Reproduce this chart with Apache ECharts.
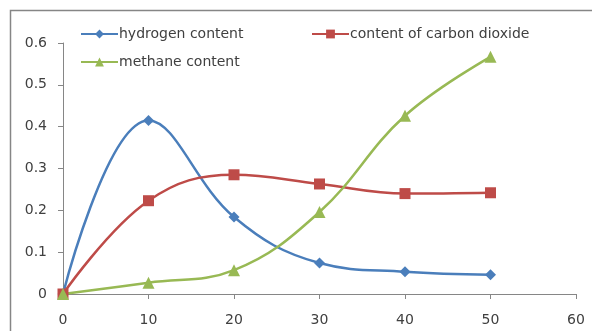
<!DOCTYPE html>
<html>
<head>
<meta charset="utf-8">
<script src="https://cdn.jsdelivr.net/npm/echarts@6/dist/echarts.min.js"></script>
<style>
  html, body { margin: 0; padding: 0; background: #fff; }
  #chart { width: 592px; height: 331px; }
</style>
</head>
<body>
<div id="chart"></div>
<script>
// Sampling points on the x axis
const xValues = [0, 10, 20, 30, 40, 50];

// Gas content at each sampling point
const hydrogen = [0, 0.415, 0.184, 0.074, 0.053, 0.046];
const carbonDioxide = [0, 0.223, 0.285, 0.263, 0.240, 0.242];
const methane = [0, 0.027, 0.057, 0.196, 0.426, 0.567];

const seriesNames = ['hydrogen content', 'content of carbon dioxide', 'methane content'];

const pairs = (ys) => xValues.map((x, i) => [x, ys[i]]);

const chart = echarts.init(document.getElementById('chart'));
const textStyle = { fontFamily: 'DejaVu Sans', fontSize: 13, color: '#404040' };

const legendBase = {
  orient: 'horizontal',
  itemWidth: 37,
  itemHeight: 11,
  itemGap: 2,
  textStyle: Object.assign({}, textStyle, { fontSize: 14, padding: [0, 0, 0, -4] })
};

chart.setOption({
  animation: false,
  textStyle: textStyle,
  graphic: [{
    type: 'rect',
    shape: { x: 10.5, y: 10.5, width: 590, height: 340 },
    style: { fill: 'none', stroke: '#868686', lineWidth: 1.5 },
    silent: true
  }],
  legend: [
    Object.assign({}, legendBase, { left: 75, top: 22, data: [seriesNames[0]] }),
    Object.assign({}, legendBase, { left: 306, top: 22, data: [seriesNames[1]] }),
    Object.assign({}, legendBase, { left: 75, top: 50, data: [seriesNames[2]] })
  ],
  grid: { left: 63, right: 16, top: 43, bottom: 37, containLabel: false },
  xAxis: {
    type: 'value',
    min: 0, max: 60, interval: 10,
    axisLine: { lineStyle: { color: '#868686', width: 1 } },
    axisTick: { show: true, length: 5, lineStyle: { color: '#868686' } },
    axisLabel: { color: '#404040', fontFamily: 'DejaVu Sans', fontSize: 14, margin: 19 },
    splitLine: { show: false }
  },
  yAxis: {
    type: 'value',
    min: 0, max: 0.6, interval: 0.1,
    axisLine: { show: true, lineStyle: { color: '#868686', width: 1 } },
    axisTick: { show: true, length: 5, lineStyle: { color: '#868686' } },
    axisLabel: { color: '#404040', fontFamily: 'DejaVu Sans', fontSize: 14, margin: 16 },
    splitLine: { show: false }
  },
  series: [
    {
      name: seriesNames[0], type: 'line', smooth: 0.4,
      data: pairs(hydrogen),
      symbol: 'diamond', symbolSize: 11,
      itemStyle: { color: '#4a7ebb' },
      lineStyle: { color: '#4a7ebb', width: 2.5 }
    },
    {
      name: seriesNames[1], type: 'line', smooth: 0.4,
      data: pairs(carbonDioxide),
      symbol: 'rect', symbolSize: 11,
      itemStyle: { color: '#be4b48' },
      lineStyle: { color: '#be4b48', width: 2.5 }
    },
    {
      name: seriesNames[2], type: 'line', smooth: 0.4,
      data: pairs(methane),
      symbol: 'triangle', symbolSize: 12,
      itemStyle: { color: '#98b954' },
      lineStyle: { color: '#98b954', width: 2.5 }
    }
  ]
});
</script>
</body>
</html>
